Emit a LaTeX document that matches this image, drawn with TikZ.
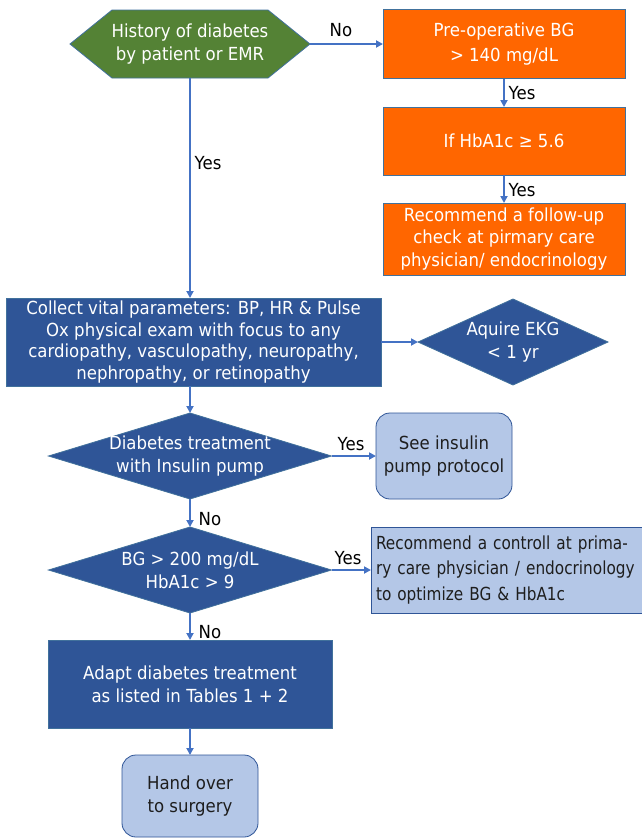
\documentclass[tikz,border=0pt]{standalone}
\usepackage{fontspec}
\setmainfont{DejaVu Sans}[FakeStretch=0.92]
\newfontfamily\narrowfont{DejaVu Sans}[FakeStretch=0.85]
\usetikzlibrary{arrows.meta,backgrounds}
\definecolor{dgreen}{HTML}{548235}
\definecolor{orng}{HTML}{FF6600}
\definecolor{dblue}{HTML}{2F5597}
\definecolor{lblue}{HTML}{B4C7E7}
\definecolor{edgec}{HTML}{41719C}
\definecolor{arr}{HTML}{4472C4}
\definecolor{txt}{HTML}{1E1E1E}
\begin{document}
\begin{tikzpicture}[x=1pt,y=-1pt,
  every node/.style={font=\fontsize{18}{23}\selectfont, inner sep=0pt, outer sep=0pt},
  orbox/.style={draw=edgec, line width=0.8pt, fill=orng, text=white, align=center},
  dkbox/.style={draw=edgec, line width=0.8pt, fill=dblue, text=white, align=center},
  ltbox/.style={draw=dblue, line width=0.8pt, fill=lblue, text=txt, align=center, rounded corners=14pt},
  dia/.style={text=white, align=center},
  diashape/.style={draw=edgec, line width=0.8pt, fill=dblue},
  conn/.style={draw=arr, line width=2pt, -{Triangle[length=7pt,width=7pt]}},
  lbl/.style={text=black}
]
\useasboundingbox (0,0) rectangle (642,838);

% nodes
\node[align=center, text=white, minimum width=240pt, minimum height=68pt] (hist) at (190,44) {History of diabetes\\by patient or EMR};

\node[orbox, minimum width=242pt, minimum height=69pt, font=\fontsize{18}{25}\selectfont] (pre) at (504,44) {Pre-operative BG\\> 140 mg/dL};
\node[orbox, minimum width=242pt, minimum height=68pt] (hba) at (504,141) {If HbA1c ≥ 5.6};
\node[orbox, minimum width=242pt, minimum height=72pt, font=\fontsize{18}{22.5}\selectfont] (rec1) at (504,239) {Recommend a follow-up\\check at pirmary care\\physician/ endocrinology};

\node[dkbox, minimum width=375pt, minimum height=88pt, font=\fontsize{18}{21.5}\selectfont] (vital) at (193.5,342) {Collect vital parameters: BP, HR \& Pulse\\Ox physical exam with focus to any\\cardiopathy, vasculopathy, neuropathy,\\nephropathy, or retinopathy};
\node[dia, minimum width=190pt, minimum height=86pt] (ekg) at (513,342) {Aquire EKG\\< 1 yr};

\node[dia, minimum width=283pt, minimum height=86pt] (pump) at (190,456) {Diabetes treatment\\with Insulin pump};
\node[ltbox, minimum width=136pt, minimum height=86pt] (pumpp) at (444,456) {See insulin\\pump protocol};

\node[dia, minimum width=283pt, minimum height=86pt] (bg) at (190,570) {BG > 200 mg/dL\\HbA1c > 9};
\node[draw=dblue, line width=0.8pt, fill=lblue, text=txt, anchor=west, minimum height=86pt, text width=320pt, inner xsep=5pt, align=left, font=\narrowfont\fontsize{18}{25.5}\selectfont] (ctrl) at (371,570) {Recommend a controll at prima-\\ry care physician / endocrinology\\to optimize BG \& HbA1c};

\node[dkbox, minimum width=284pt, minimum height=88pt] (adapt) at (190,684) {Adapt diabetes treatment\\as listed in Tables 1 + 2};
\node[ltbox, minimum width=136pt, minimum height=82pt] (hand) at (190,796) {Hand over\\to surgery};

\begin{pgfonlayer}{background}
\fill[white] (0,0) rectangle (642,838);
\draw[draw=edgec, line width=0.8pt, fill=dgreen] (hist.west) -- ([xshift=42pt]hist.north west) -- ([xshift=-42pt]hist.north east) -- (hist.east) -- ([xshift=-42pt]hist.south east) -- ([xshift=42pt]hist.south west) -- cycle;
\foreach \d in {ekg,pump,bg}
  \draw[diashape] (\d.west) -- (\d.north) -- (\d.east) -- (\d.south) -- cycle;
\end{pgfonlayer}

% connectors
\draw[conn] (hist.east) -- (pre.west);
\draw[conn] (pre.south) -- (hba.north);
\draw[conn] (hba.south) -- (rec1.north);
\draw[conn] (hist.south) -- (hist.south |- vital.north);
\draw[conn] (vital.east) -- (ekg.west);
\draw[conn] (hist.south |- vital.south) -- (pump.north);
\draw[conn] (pump.east) -- (pumpp.west);
\draw[conn] (pump.south) -- (bg.north);
\draw[conn] (bg.east) -- (ctrl.west);
\draw[conn] (bg.south) -- (adapt.north);
\draw[conn] (adapt.south) -- (hand.north);

% labels
\node[lbl] (l1) at (341,30) {No};
\node[lbl] (l2) at (522,93) {Yes};
\node[lbl] (l3) at (522,190) {Yes};
\node[lbl] (l4) at (208,163) {Yes};
\node[lbl] (l5) at (351,444) {Yes};
\node[lbl] (l6) at (210,519) {No};
\node[lbl] (l7) at (348,558) {Yes};
\node[lbl] (l8) at (210,632) {No};
\end{tikzpicture}
\end{document}
